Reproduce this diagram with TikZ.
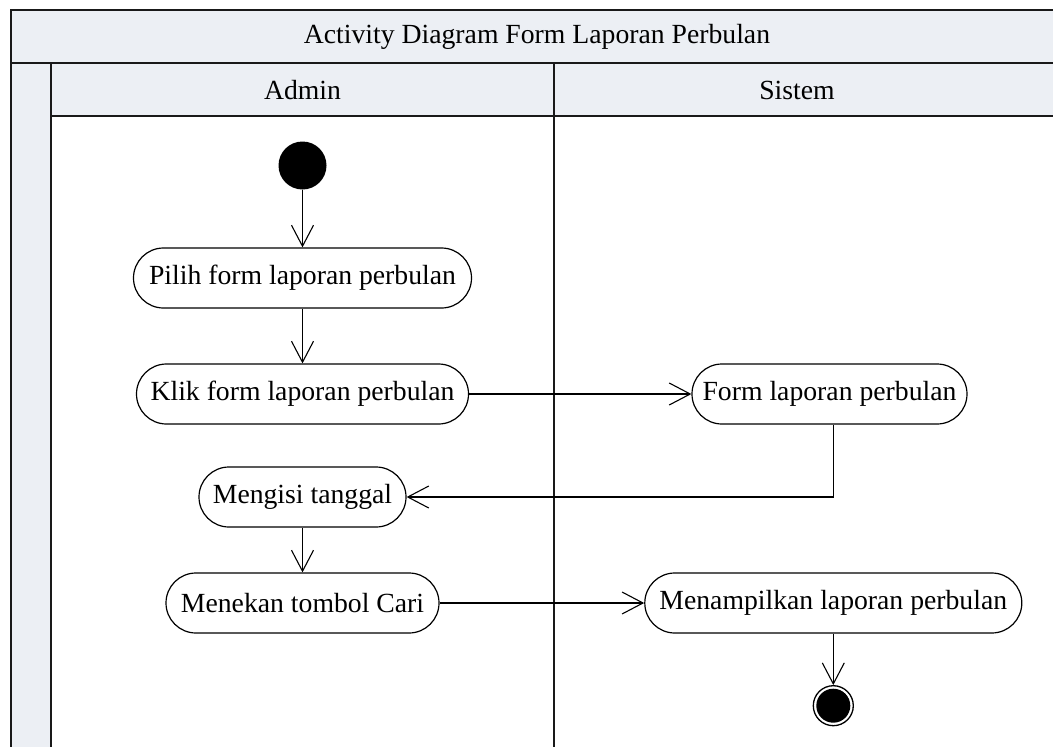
\documentclass[tikz,border=0pt]{standalone}
\usepackage{fontspec}
\setmainfont{Liberation Serif}
\usetikzlibrary{arrows.meta}
\definecolor{lanefill}{RGB}{236,239,244}
\begin{document}
\begin{tikzpicture}[x=1pt,y=-1pt,
  txt/.style={font=\fontsize{27.7}{32}\selectfont, inner sep=0pt},
  act/.style={txt, draw, fill=white, line width=1.2pt, rectangle, rounded corners=30pt, minimum height=60pt},
  flow/.style={line width=1.1pt, -{Straight Barb[length=21pt,width=22pt,line width=1.1pt]}},
  frame/.style={line width=2pt, draw=black!90}]
\useasboundingbox (0,0) rectangle (1053,747);
% swimlane frame
\fill[lanefill] (11,10) rectangle (1060,116);
\fill[lanefill] (11,116) rectangle (51,760);
\draw[frame] (1060,10) -- (11,10) -- (11,760);
\draw[frame] (11,63) -- (1060,63);
\draw[frame] (51,63) -- (51,760);
\draw[frame] (51,116) -- (1060,116);
\draw[frame] (554,63) -- (554,760);
\node[txt] (title) at (537,37) {Activity Diagram Form Laporan Perbulan};
\node[txt] (admin) at (302.5,90) {Admin};
\node[txt] (sistem) at (797,90) {Sistem};
% nodes
\node[circle, fill=black, minimum size=48pt, inner sep=0pt] (start) at (302.5,165.5) {};
\node[act, minimum width=338pt] (pilih) at (302.5,278) {Pilih form laporan perbulan};
\node[act, minimum width=332pt] (klik) at (302.5,394) {Klik form laporan perbulan};
\node[act, minimum width=275pt] (form) at (829.5,394) {Form laporan perbulan};
\node[act, minimum width=207pt] (isi) at (302.5,497) {Mengisi tanggal};
\node[act, minimum width=273pt] (tekan) at (302.5,603) {Menekan tombol Cari};
\node[act, minimum width=377pt] (tampil) at (833.3,603) {Menampilkan laporan perbulan};
\node[circle, draw=black, line width=1.3pt, minimum size=40pt, inner sep=0pt] (fin) at (833.3,705.7) {};
\fill[black] (fin.center) circle (17pt);
% flows
\draw[flow] (start) -- (pilih);
\draw[flow] (pilih) -- (klik);
\draw[flow] (klik) -- (form);
\draw[flow] (form.south -| fin.center) |- (isi.east);
\draw[flow] (isi) -- (tekan);
\draw[flow] (tekan) -- (tampil);
\draw[flow] (tampil) -- (fin);
\end{tikzpicture}
\end{document}
